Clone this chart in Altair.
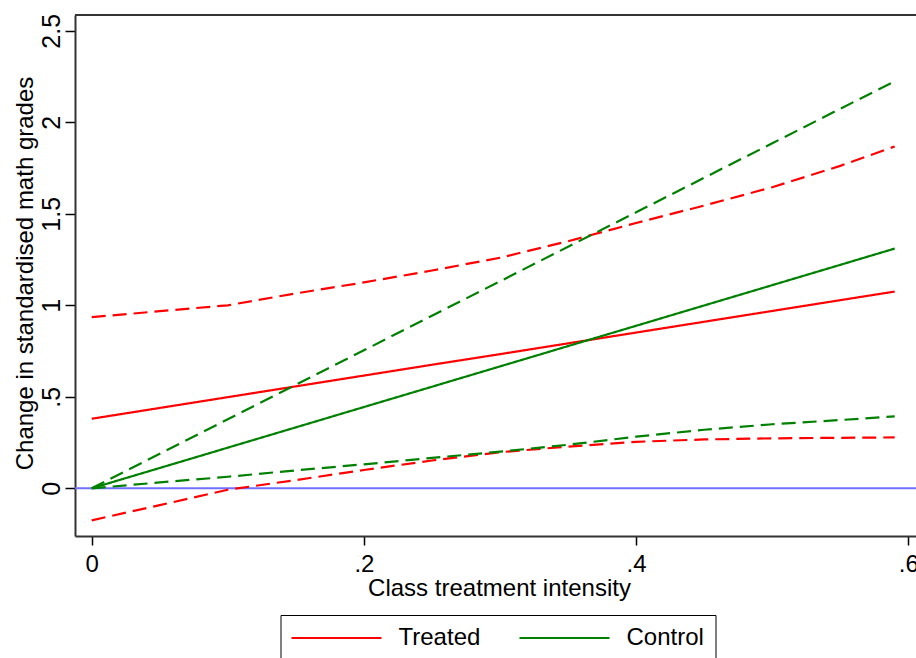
import altair as alt
import pandas as pd

# Class treatment intensity grid
xs = [0, 0.05, 0.1, 0.15, 0.2, 0.25, 0.3, 0.35, 0.4, 0.45, 0.5, 0.55, 0.59]

# Treated group (fit and 95% band)
treated_fit = [0.38, 0.439, 0.498, 0.557, 0.616, 0.675, 0.733, 0.792, 0.851, 0.910, 0.969, 1.028, 1.075]
treated_upper = [0.935, 0.968, 1.00, 1.065, 1.125, 1.19, 1.26, 1.35, 1.45, 1.545, 1.645, 1.762, 1.868]
treated_lower = [-0.175, -0.092, -0.008, 0.045, 0.10, 0.152, 0.197, 0.228, 0.254, 0.267, 0.273, 0.276, 0.278]

# Control group (fit and 95% band)
control_fit = [0, 0.111, 0.222, 0.333, 0.444, 0.555, 0.666, 0.777, 0.888, 0.999, 1.11, 1.221, 1.31]
control_upper = [0, 0.189, 0.377, 0.566, 0.754, 0.943, 1.131, 1.32, 1.508, 1.697, 1.885, 2.074, 2.224]
control_lower = [0, 0.032, 0.063, 0.098, 0.131, 0.166, 0.20, 0.238, 0.282, 0.32, 0.35, 0.373, 0.393]

groups = ["Treated", "Control"]
colors = ["#ff0000", "#008000"]

series = [
    ("Treated", "fit", "Treated fit", treated_fit),
    ("Treated", "ci", "Treated upper", treated_upper),
    ("Treated", "ci", "Treated lower", treated_lower),
    ("Control", "fit", "Control fit", control_fit),
    ("Control", "ci", "Control upper", control_upper),
    ("Control", "ci", "Control lower", control_lower),
]

rows = []
for grp, kind, name, vals in series:
    for x, y in zip(xs, vals):
        rows.append({"x": x, "y": y, "group": grp, "kind": kind, "series": name})
df = pd.DataFrame(rows)

zero_df = pd.DataFrame({"y": [0.0]})
frame_df = pd.DataFrame({"a": [0]})

FONT = "Liberation Sans"
W, H = 841, 521

x_scale = alt.Scale(domain=[-0.01227, 0.60565], nice=False, zero=False)
y_scale = alt.Scale(domain=[-0.2607, 2.5863], nice=False, zero=False)

x_axis = alt.Axis(
    title="Class treatment intensity",
    values=[0, 0.2, 0.4, 0.6],
    labelExpr="datum.value == 0 ? '0' : substring(format(datum.value, '.1f'), 1)",
    grid=False,
    tickSize=9, tickWidth=1.5, tickColor="black",
    domainColor="#333333", domainWidth=2,
    labelFontSize=24, labelColor="black", labelPadding=7,
    labelBaseline="top", labelFlush=False,
    titleFontSize=24, titleFontWeight="normal", titleColor="black",
    titleBaseline="alphabetic", titleX=424, titleY=59, titleAlign="center",
)

y_axis = alt.Axis(
    title="Change in standardised math grades",
    values=[0, 0.5, 1, 1.5, 2, 2.5],
    labelExpr="(datum.value > 0 && datum.value < 1) ? substring(format(datum.value, '~g'), 1) : format(datum.value, '~g')",
    grid=False,
    tickSize=10, tickWidth=1.5, tickColor="black",
    domainColor="#333333", domainWidth=2,
    labelFontSize=25, labelColor="black", labelPadding=6,
    labelAngle=270, labelAlign="center", labelBaseline="alphabetic", labelFlush=False,
    titleFontSize=24, titleFontWeight="normal", titleColor="black",
    titleAngle=270, titleBaseline="alphabetic", titleAlign="center",
    titleX=-43, titleY=258,
)

zero_line = alt.Chart(zero_df).mark_rule(color="#7070ff", strokeWidth=2).encode(
    y=alt.Y("y:Q", scale=y_scale, axis=y_axis)
)

lines = alt.Chart(df).mark_line(strokeWidth=2.2).encode(
    x=alt.X("x:Q", scale=x_scale, axis=x_axis),
    y=alt.Y("y:Q", scale=y_scale, axis=y_axis),
    color=alt.Color(
        "group:N",
        scale=alt.Scale(domain=groups, range=colors),
        legend=alt.Legend(
            title=None,
            orient="none",
            legendX=205.5,
            legendY=600,
            direction="horizontal",
            columns=2,
            strokeColor="black",
            padding=11,
            symbolType="M-6,0H6",
            symbolSize=225,
            symbolStrokeWidth=2,
            symbolOffset=33,
            labelOffset=50,
            labelFontSize=24,
            labelFont=FONT,
            labelColor="black",
            columnPadding=35,
        ),
    ),
    strokeDash=alt.StrokeDash(
        "kind:N",
        scale=alt.Scale(domain=["fit", "ci"], range=[[1, 0], [14, 7]]),
        legend=None,
    ),
    detail="series:N",
    order=alt.Order("x:Q"),
)

top_border = alt.Chart(frame_df).mark_rule(color="#333333", strokeWidth=2).encode(
    x=alt.value(0), x2=alt.value(W), y=alt.value(0)
)

chart = (
    alt.layer(zero_line, lines, top_border)
    .properties(
        width=W,
        height=H,
        autosize=alt.AutoSizeParams(type="none"),
        padding={"left": 75, "top": 15, "right": 0, "bottom": 122},
        background="white",
    )
    .configure_view(strokeWidth=0)
    .configure(font=FONT)
)

chart.save("out.html", embed_options={"renderer": "svg", "actions": False})
